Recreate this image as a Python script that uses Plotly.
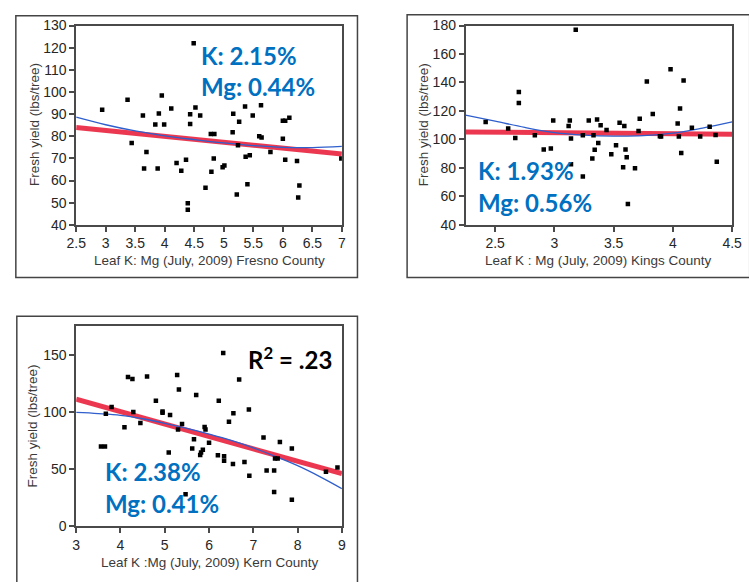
import plotly.graph_objects as go

W, H = 749, 582

# ---------------- Data ----------------
# Fresno County
fresno_x = [2.94, 3.37, 3.44, 3.63, 3.65, 3.69, 3.84, 3.88, 3.90, 3.95, 3.99, 4.11, 4.20, 4.28, 4.36,
            4.39, 4.39, 4.43, 4.43, 4.49, 4.52, 4.60, 4.69, 4.78, 4.84, 4.79, 4.83, 4.98, 5.01, 5.16,
            5.15, 5.22, 5.24, 5.26, 5.36, 5.37, 5.40, 5.44, 5.49, 5.60, 5.63, 5.64, 5.79, 6.00, 6.00,
            6.04, 6.04, 6.11, 6.24, 6.28, 6.26, 6.99]
fresno_y = [92, 96.5, 77, 89.4, 65.4, 72.9, 85.3, 65.4, 90.3, 98.4, 85.3, 92.5, 67.9, 64.4, 69.4,
            49.8, 46.8, 89.9, 85.5, 122, 93, 89.4, 56.8, 81, 81, 64, 70, 66, 66.8, 90.2,
            81.8, 53.7, 76, 86.5, 93.4, 70.8, 58.3, 71.4, 89.4, 80, 94, 79.5, 72.9, 78.9, 87,
            87, 69.4, 88.4, 68.8, 57.8, 52.4, 70]
fresno_lin_x = [2.5, 7]
fresno_lin_y = [84, 72]
fresno_fit_x = [2.5, 3.0, 3.5, 4.0, 4.5, 5.0, 5.5, 6.0, 6.5, 7.0]
fresno_fit_y = [88.6, 85.2, 82.4, 80.2, 78.5, 77.0, 75.8, 75.0, 74.9, 75.4]

# Kings County
kings_x = [2.42, 2.61, 2.67, 2.70, 2.70, 2.835, 2.91, 2.97, 2.99, 3.12, 3.13, 3.14, 3.14, 3.18, 3.24,
           3.24, 3.29, 3.32, 3.33, 3.34, 3.36, 3.37, 3.39, 3.44, 3.48, 3.52, 3.55, 3.58, 3.59, 3.60,
           3.61, 3.62, 3.68, 3.71, 3.72, 3.78, 3.83, 3.89, 3.90, 3.98, 4.04, 4.05, 4.06, 4.07, 4.09,
           4.16, 4.23, 4.31, 4.36, 4.37]
kings_y = [112.3, 107.6, 101, 133.3, 125.6, 103, 93, 93.7, 113.3, 109.4, 113.3, 100.7, 82.5, 177, 74,
           103, 113.3, 86.6, 103, 92.8, 114, 97.5, 110, 106.7, 89.6, 96, 111.7, 80.5, 109.4, 93,
           87.5, 54.7, 79.8, 106, 114.6, 140.6, 117.8, 102.3, 102, 149.2, 111.2, 102.1, 121.7, 90.5, 141.3,
           108.2, 102.1, 108.9, 103.2, 84.3]
kings_lin_x = [2.25, 4.5]
kings_lin_y = [105.3, 103.7]
kings_fit_x = [2.25, 2.5, 2.75, 3.0, 3.25, 3.5, 3.75, 4.0, 4.25, 4.5]
kings_fit_y = [117, 112.8, 108.4, 104.8, 103.0, 102.3, 102.6, 104.4, 108, 112.3]

# Kern County
kern_x = [3.56, 3.65, 3.67, 3.80, 4.09, 4.17, 4.27, 4.29, 4.45, 4.60, 4.80, 4.95, 4.95, 5.12, 5.09,
          5.28, 5.30, 5.32, 5.39, 5.47, 5.62, 5.66, 5.71, 5.80, 5.82, 5.86, 5.90, 5.92, 6.00, 6.20,
          6.22, 6.32, 6.34, 6.34, 6.45, 6.54, 6.55, 6.68, 6.80, 6.90, 6.91, 7.23, 7.30, 7.47, 7.47,
          7.49, 7.55, 7.60, 7.87, 7.87, 8.64, 8.90]
kern_y = [69.7, 69.7, 98.4, 104.3, 86.5, 130.4, 128.7, 99.8, 90.2, 131, 109.7, 99.2, 100.4, 97.2, 64.4,
          132.1, 84.5, 119.6, 89.3, 28, 68, 76, 114.8, 62.4, 64.6, 66.9, 86.8, 84.5, 73.1, 62.1,
          109.7, 151.4, 61.2, 57.3, 91.3, 54.4, 98.9, 128.2, 56.1, 102.1, 44.2, 77.7, 48.8, 48.8, 30,
          59.3, 59.3, 73.7, 68, 23.2, 47.6, 51.3]
kern_lin_x = [3, 9]
kern_lin_y = [111, 46]
kern_fit_x = [3.0, 3.5, 4.0, 4.5, 5.0, 5.5, 6.0, 6.5, 7.0, 7.5, 8.0, 8.5, 9.0]
kern_fit_y = [99.5, 98.5, 97, 94, 90, 85.5, 80.5, 75, 68.5, 61, 53, 43.5, 33]

# ---------------- Layout helpers ----------------
def px(x):
    return x / W

def py(y):
    return 1 - y / H

RED = "rgba(232,28,56,0.88)"
BLUE = "#2f5fcc"
TXT_BLUE = "#0070C0"
AX = "#4a4a4a"
TICKFONT = dict(family="Liberation Sans, Arial, sans-serif", size=14, color="#262626")

fig = go.Figure()

panels = [
    (fresno_x, fresno_y, fresno_lin_x, fresno_lin_y, fresno_fit_x, fresno_fit_y,
     "x", "y", (68, 341, 18, 223), [2.5, 7], 0.5, 2.5, [40, 130], 10),
    (kings_x, kings_y, kings_lin_x, kings_lin_y, kings_fit_x, kings_fit_y,
     "x2", "y2", (468, 742, 18, 223), [2.25, 4.5], 0.5, 2.5, [40, 180], 20),
    (kern_x, kern_y, kern_lin_x, kern_lin_y, kern_fit_x, kern_fit_y,
     "x3", "y3", (68, 341, 327, 533), [3, 9], 1, 3, [0, 175], 50),
]

layout_axes = {}
for i, (xs, ys, lx, ly, fx, fy, xa, ya, area, xr, xd, xt0, yr, yd) in enumerate(panels):
    fig.add_trace(go.Scatter(x=lx, y=ly, mode="lines", xaxis=xa, yaxis=ya,
                             line=dict(color=RED, width=5), hoverinfo="skip"))
    fig.add_trace(go.Scatter(x=fx, y=fy, mode="lines", xaxis=xa, yaxis=ya,
                             line=dict(color=BLUE, width=1.3, shape="spline"), hoverinfo="skip"))
    fig.add_trace(go.Scatter(x=xs, y=ys, mode="markers", xaxis=xa, yaxis=ya,
                             marker=dict(symbol="square", size=4.5, color="black")))
    x0, x1, yt, yb = area
    suffix = "" if i == 0 else str(i + 1)
    layout_axes["xaxis" + suffix] = dict(
        domain=[px(x0), px(x1)], range=xr, dtick=xd, tick0=xt0,
        anchor=ya, showgrid=False, zeroline=False, showline=True, mirror=True,
        linecolor=AX, linewidth=1.5, ticks="outside", ticklen=5, tickwidth=1.5,
        tickcolor=AX, tickfont=TICKFONT)
    layout_axes["yaxis" + suffix] = dict(
        domain=[py(yb), py(yt)], range=yr, dtick=yd, tick0=0,
        anchor=xa, showgrid=False, zeroline=False, showline=True, mirror=True,
        linecolor=AX, linewidth=1.5, ticks="outside", ticklen=5, tickwidth=1.5,
        tickcolor=AX, tickfont=TICKFONT)

fig.update_layout(**layout_axes)

# outer boxes
boxes = [(6, 357, 8, 277), (408, 760, 7, 277), (7, 357, 317, 600)]
shapes = []
for (a, b, c, d) in boxes:
    shapes.append(dict(type="rect", xref="paper", yref="paper",
                       x0=px(a), x1=px(b), y0=py(d), y1=py(c),
                       line=dict(color="#444", width=1.5)))

annotations = []
def ann(text, x, y, size, color, xanchor="left", angle=0, bold=True, family="Lato, sans-serif"):
    annotations.append(dict(text=("<b>%s</b>" % text) if bold else text,
                            x=px(x), y=py(y), xref="paper", yref="paper",
                            xanchor=xanchor, yanchor="middle", showarrow=False,
                            textangle=angle,
                            font=dict(family=family, size=size, color=color)))

BIG = 24
ann("K: 2.15%", 194, 49, BIG, TXT_BLUE)
ann("Mg: 0.44%", 194, 81, BIG, TXT_BLUE)
ann("K: 1.93%", 479, 167, BIG, TXT_BLUE)
ann("Mg: 0.56%", 479, 200, BIG, TXT_BLUE)
ann("K: 2.38%", 96, 477, BIG, TXT_BLUE)
ann("Mg: 0.41%", 96, 510, BIG, TXT_BLUE)
ann("R<sup>2</sup> = .23", 242, 360, BIG, "black")

# axis titles
AF = "Liberation Sans, Arial, sans-serif"
TC = "#3a3a3a"
ann("Fresh yield (lbs/tree)", 25, 120, 13.5, TC, xanchor="center", angle=-90, bold=False, family=AF)
ann("Fresh yield (lbs/tree)", 425, 120, 13.5, TC, xanchor="center", angle=-90, bold=False, family=AF)
ann("Fresh yield (lbs/tree)", 23, 430, 13.5, TC, xanchor="center", angle=-90, bold=False, family=AF)
ann("Leaf K: Mg (July, 2009) Fresno County", 204.5, 260, 13.5, TC, xanchor="center", bold=False, family=AF)
ann("Leaf K : Mg (July, 2009) Kings County", 605, 260, 13.5, TC, xanchor="center", bold=False, family=AF)
ann("Leaf K :Mg (July, 2009) Kern County", 205, 570, 13.5, TC, xanchor="center", bold=False, family=AF)

fig.update_layout(width=W, height=H, margin=dict(l=0, r=0, t=0, b=0),
                  paper_bgcolor="white", plot_bgcolor="white", showlegend=False,
                  shapes=shapes, annotations=annotations)

fig.write_html("out.html")
